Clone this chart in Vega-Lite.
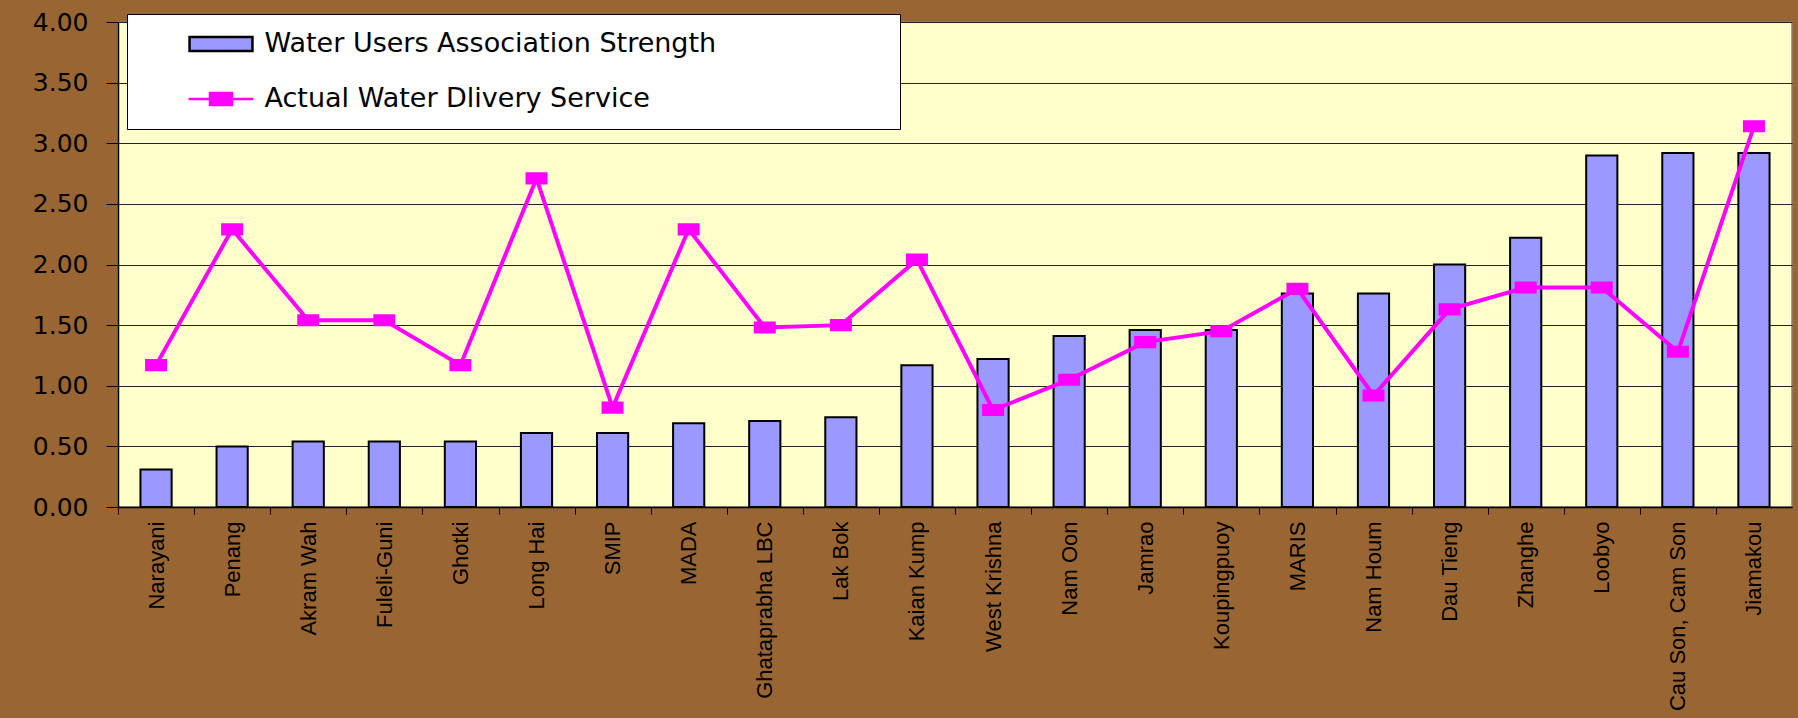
{
  "$schema": "https://vega.github.io/schema/vega-lite/v6.json",
  "width": 1674,
  "height": 485,
  "autosize": {"type": "none"},
  "padding": {"left": 118, "top": 22, "right": 6, "bottom": 211},
  "background": "#996633",
  "config": {
    "view": {"fill": "#FFFFCC", "stroke": "#808080", "strokeWidth": 1.5},
    "legend": {
      "orient": "none",
      "legendX": 9,
      "legendY": -8,
      "titleOrient": "right",
      "titlePadding": 167,
      "titleFontSize": 10,
      "fillColor": "white",
      "strokeColor": "black",
      "padding": 16.5,
      "rowPadding": 27,
      "symbolSize": 484,
      "symbolOffset": 64,
      "symbolStrokeWidth": 2.5,
      "labelOffset": 30,
      "labelFont": "DejaVu Sans",
      "labelFontSize": 27,
      "labelColor": "black",
      "labelLimit": 800
    }
  },
  "data": {
    "values": [
      {"site": "Narayani", "wua": 0.31, "service": 1.17},
      {"site": "Penang", "wua": 0.50, "service": 2.29},
      {"site": "Akram Wah", "wua": 0.54, "service": 1.54},
      {"site": "Fuleli-Guni", "wua": 0.54, "service": 1.54},
      {"site": "Ghotki", "wua": 0.54, "service": 1.17},
      {"site": "Long Hai", "wua": 0.61, "service": 2.71},
      {"site": "SMIP", "wua": 0.61, "service": 0.82},
      {"site": "MADA", "wua": 0.69, "service": 2.29},
      {"site": "Ghataprabha LBC", "wua": 0.71, "service": 1.48},
      {"site": "Lak Bok", "wua": 0.74, "service": 1.50},
      {"site": "Kaian Kump", "wua": 1.17, "service": 2.04},
      {"site": "West Krishna", "wua": 1.22, "service": 0.80},
      {"site": "Nam Oon", "wua": 1.41, "service": 1.05},
      {"site": "Jamrao", "wua": 1.46, "service": 1.36},
      {"site": "Koupingpuoy", "wua": 1.46, "service": 1.45},
      {"site": "MARIS", "wua": 1.76, "service": 1.80},
      {"site": "Nam Houm", "wua": 1.76, "service": 0.92},
      {"site": "Dau Tieng", "wua": 2.00, "service": 1.63},
      {"site": "Zhanghe", "wua": 2.22, "service": 1.81},
      {"site": "Loobyo", "wua": 2.90, "service": 1.81},
      {"site": "Cau Son, Cam Son", "wua": 2.92, "service": 1.28},
      {"site": "Jiamakou", "wua": 2.92, "service": 3.14}
    ]
  },
  "encoding": {
    "x": {
      "field": "site",
      "type": "nominal",
      "sort": null,
      "title": null,
      "scale": {"paddingInner": 0, "paddingOuter": 0},
      "axis": {
        "labelAngle": 270,
        "labelFont": "Liberation Sans",
        "labelFontSize": 22,
        "labelColor": "black",
        "labelPadding": 7,
        "labelLimit": 400,
        "tickOffset": -38,
        "labelOffset": 38,
        "tickColor": "black",
        "tickSize": 7,
        "domainColor": "black",
        "domainWidth": 1.5,
        "grid": false
      }
    }
  },
  "layer": [
    {
      "mark": {"type": "bar", "width": {"band": 0.41}, "strokeWidth": 2},
      "encoding": {
        "y": {
          "field": "wua",
          "type": "quantitative",
          "title": null,
          "scale": {"domain": [0, 4], "nice": false},
          "axis": {
            "values": [0, 0.5, 1, 1.5, 2, 2.5, 3, 3.5, 4],
            "format": ".2f",
            "labelFont": "DejaVu Sans",
            "labelFontSize": 25,
            "labelColor": "black",
            "labelPadding": 18,
            "tickSize": 12,
            "tickColor": "black",
            "domainColor": "black",
            "domainWidth": 1.5,
            "grid": true,
            "gridColor": "#222222",
            "gridWidth": 1
          }
        },
        "color": {
          "datum": "Water Users Association Strength",
          "type": "nominal",
          "scale": {
            "domain": ["Water Users Association Strength", "Actual Water Dlivery Service"],
            "range": ["#9999FF", "#FF00FF"]
          },
          "legend": {"title": " "}
        },
        "stroke": {
          "datum": "Water Users Association Strength",
          "type": "nominal",
          "scale": {
            "domain": ["Water Users Association Strength", "Actual Water Dlivery Service"],
            "range": ["black", "#FF00FF"]
          },
          "legend": {"title": " "}
        }
      }
    },
    {
      "mark": {"type": "line", "strokeWidth": 4, "color": "#FF00FF"},
      "encoding": {
        "y": {"field": "service", "type": "quantitative"}
      }
    },
    {
      "mark": {"type": "point", "size": 484, "filled": true, "opacity": 1, "color": "#FF00FF"},
      "encoding": {
        "y": {"field": "service", "type": "quantitative"},
        "shape": {
          "datum": "Actual Water Dlivery Service",
          "type": "nominal",
          "scale": {
            "domain": ["Water Users Association Strength", "Actual Water Dlivery Service"],
            "range": ["M-2.86,-0.64H2.86V0.64H-2.86Z", "M-2.95,0H-1M1,0H2.95M-1,-0.55H1V0.55H-1Z"]
          },
          "legend": {"title": " "}
        }
      }
    }
  ]
}
